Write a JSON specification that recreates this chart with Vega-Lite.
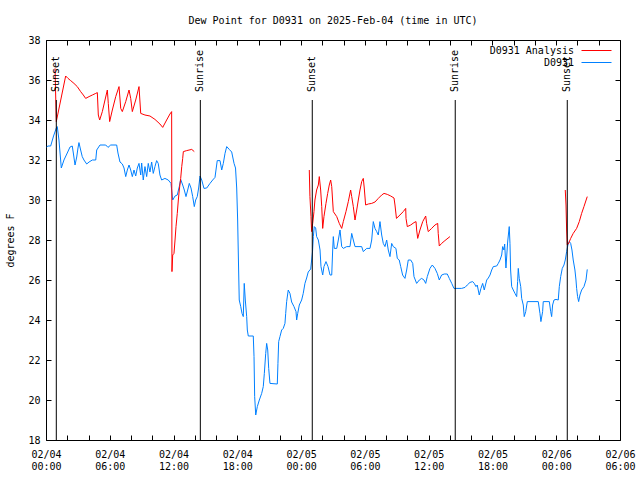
{
  "$schema": "https://vega.github.io/schema/vega-lite/v6.json",
  "width": 574,
  "height": 400,
  "autosize": {"type": "none"},
  "padding": {"left": 46, "top": 40, "right": 20, "bottom": 40},
  "background": "white",
  "config": {
    "font": "DejaVu Sans Mono",
    "view": {"stroke": null},
    "axis": {
      "domainColor": "black", "domainWidth": 1, "tickColor": "black", "tickWidth": 1,
      "labelFont": "DejaVu Sans Mono", "labelFontSize": 10, "labelColor": "black",
      "titleFont": "DejaVu Sans Mono", "titleFontSize": 10, "titleFontWeight": "normal", "titleColor": "black",
      "grid": false
    }
  },
  "title": {"text": "Dew Point for D0931 on 2025-Feb-04 (time in UTC)", "font": "DejaVu Sans Mono", "fontSize": 10, "fontWeight": "normal", "color": "black", "anchor": "middle", "offset": 9},
  "datasets": {
    "events": [
      {"hour": 0.97, "event": "Sunset"},
      {"hour": 14.52, "event": "Sunrise"},
      {"hour": 25.05, "event": "Sunset"},
      {"hour": 38.50, "event": "Sunrise"},
      {"hour": 49.04, "event": "Sunset"}
    ],
    "obs": [
      {"series":"D0931","seg":"b","hour":0.05,"dewpoint":32.65},
      {"series":"D0931","seg":"b","hour":0.19,"dewpoint":32.7},
      {"series":"D0931","seg":"b","hour":0.44,"dewpoint":32.7},
      {"series":"D0931","seg":"b","hour":0.71,"dewpoint":33.2},
      {"series":"D0931","seg":"b","hour":0.97,"dewpoint":33.6},
      {"series":"D0931","seg":"b","hour":1.06,"dewpoint":33.67},
      {"series":"D0931","seg":"b","hour":1.22,"dewpoint":33.0},
      {"series":"D0931","seg":"b","hour":1.44,"dewpoint":31.6},
      {"series":"D0931","seg":"b","hour":1.69,"dewpoint":32.0},
      {"series":"D0931","seg":"b","hour":2.00,"dewpoint":32.35},
      {"series":"D0931","seg":"b","hour":2.26,"dewpoint":32.65},
      {"series":"D0931","seg":"b","hour":2.47,"dewpoint":32.7},
      {"series":"D0931","seg":"b","hour":2.57,"dewpoint":32.35},
      {"series":"D0931","seg":"b","hour":2.73,"dewpoint":31.75},
      {"series":"D0931","seg":"b","hour":2.89,"dewpoint":32.15},
      {"series":"D0931","seg":"b","hour":3.01,"dewpoint":32.6},
      {"series":"D0931","seg":"b","hour":3.10,"dewpoint":32.87},
      {"series":"D0931","seg":"b","hour":3.26,"dewpoint":32.5},
      {"series":"D0931","seg":"b","hour":3.41,"dewpoint":32.17},
      {"series":"D0931","seg":"b","hour":3.57,"dewpoint":32.0},
      {"series":"D0931","seg":"b","hour":3.83,"dewpoint":31.8},
      {"series":"D0931","seg":"b","hour":4.05,"dewpoint":31.9},
      {"series":"D0931","seg":"b","hour":4.36,"dewpoint":32.0},
      {"series":"D0931","seg":"b","hour":4.68,"dewpoint":32.0},
      {"series":"D0931","seg":"b","hour":4.77,"dewpoint":32.5},
      {"series":"D0931","seg":"b","hour":5.08,"dewpoint":32.75},
      {"series":"D0931","seg":"b","hour":5.62,"dewpoint":32.75},
      {"series":"D0931","seg":"b","hour":5.83,"dewpoint":32.63},
      {"series":"D0931","seg":"b","hour":6.09,"dewpoint":32.75},
      {"series":"D0931","seg":"b","hour":6.65,"dewpoint":32.75},
      {"series":"D0931","seg":"b","hour":6.77,"dewpoint":32.35},
      {"series":"D0931","seg":"b","hour":6.96,"dewpoint":31.9},
      {"series":"D0931","seg":"b","hour":7.18,"dewpoint":31.8},
      {"series":"D0931","seg":"b","hour":7.34,"dewpoint":31.6},
      {"series":"D0931","seg":"b","hour":7.50,"dewpoint":31.17},
      {"series":"D0931","seg":"b","hour":7.65,"dewpoint":31.5},
      {"series":"D0931","seg":"b","hour":7.81,"dewpoint":31.75},
      {"series":"D0931","seg":"b","hour":7.97,"dewpoint":31.5},
      {"series":"D0931","seg":"b","hour":8.12,"dewpoint":31.17},
      {"series":"D0931","seg":"b","hour":8.28,"dewpoint":31.5},
      {"series":"D0931","seg":"b","hour":8.44,"dewpoint":31.2},
      {"series":"D0931","seg":"b","hour":8.59,"dewpoint":31.6},
      {"series":"D0931","seg":"b","hour":8.75,"dewpoint":31.83},
      {"series":"D0931","seg":"b","hour":8.91,"dewpoint":31.25},
      {"series":"D0931","seg":"b","hour":9.00,"dewpoint":31.85},
      {"series":"D0931","seg":"b","hour":9.15,"dewpoint":31.0},
      {"series":"D0931","seg":"b","hour":9.31,"dewpoint":31.67},
      {"series":"D0931","seg":"b","hour":9.47,"dewpoint":31.17},
      {"series":"D0931","seg":"b","hour":9.62,"dewpoint":31.83},
      {"series":"D0931","seg":"b","hour":9.78,"dewpoint":31.4},
      {"series":"D0931","seg":"b","hour":9.94,"dewpoint":31.9},
      {"series":"D0931","seg":"b","hour":10.09,"dewpoint":31.33},
      {"series":"D0931","seg":"b","hour":10.25,"dewpoint":31.67},
      {"series":"D0931","seg":"b","hour":10.41,"dewpoint":31.97},
      {"series":"D0931","seg":"b","hour":10.56,"dewpoint":31.83},
      {"series":"D0931","seg":"b","hour":10.72,"dewpoint":31.25},
      {"series":"D0931","seg":"b","hour":10.88,"dewpoint":31.0},
      {"series":"D0931","seg":"b","hour":11.19,"dewpoint":31.08},
      {"series":"D0931","seg":"b","hour":11.50,"dewpoint":31.0},
      {"series":"D0931","seg":"b","hour":11.76,"dewpoint":30.83},
      {"series":"D0931","seg":"b","hour":11.82,"dewpoint":30.5},
      {"series":"D0931","seg":"b","hour":11.92,"dewpoint":30.0},
      {"series":"D0931","seg":"b","hour":12.14,"dewpoint":30.2},
      {"series":"D0931","seg":"b","hour":12.35,"dewpoint":30.25},
      {"series":"D0931","seg":"b","hour":12.54,"dewpoint":30.67},
      {"series":"D0931","seg":"b","hour":12.67,"dewpoint":31.03},
      {"series":"D0931","seg":"b","hour":12.86,"dewpoint":30.75},
      {"series":"D0931","seg":"b","hour":13.01,"dewpoint":30.5},
      {"series":"D0931","seg":"b","hour":13.17,"dewpoint":30.17},
      {"series":"D0931","seg":"b","hour":13.33,"dewpoint":30.5},
      {"series":"D0931","seg":"b","hour":13.48,"dewpoint":30.83},
      {"series":"D0931","seg":"b","hour":13.64,"dewpoint":30.6},
      {"series":"D0931","seg":"b","hour":13.80,"dewpoint":30.17},
      {"series":"D0931","seg":"b","hour":13.95,"dewpoint":29.67},
      {"series":"D0931","seg":"b","hour":14.08,"dewpoint":30.0},
      {"series":"D0931","seg":"b","hour":14.23,"dewpoint":30.17},
      {"series":"D0931","seg":"b","hour":14.36,"dewpoint":30.6},
      {"series":"D0931","seg":"b","hour":14.49,"dewpoint":31.2},
      {"series":"D0931","seg":"b","hour":14.65,"dewpoint":31.0},
      {"series":"D0931","seg":"b","hour":14.86,"dewpoint":30.58},
      {"series":"D0931","seg":"b","hour":15.12,"dewpoint":30.6},
      {"series":"D0931","seg":"b","hour":15.43,"dewpoint":30.83},
      {"series":"D0931","seg":"b","hour":15.68,"dewpoint":31.0},
      {"series":"D0931","seg":"b","hour":15.90,"dewpoint":31.13},
      {"series":"D0931","seg":"b","hour":16.11,"dewpoint":31.97},
      {"series":"D0931","seg":"b","hour":16.37,"dewpoint":31.97},
      {"series":"D0931","seg":"b","hour":16.53,"dewpoint":31.5},
      {"series":"D0931","seg":"b","hour":16.68,"dewpoint":31.83},
      {"series":"D0931","seg":"b","hour":16.84,"dewpoint":32.33},
      {"series":"D0931","seg":"b","hour":17.00,"dewpoint":32.67},
      {"series":"D0931","seg":"b","hour":17.24,"dewpoint":32.53},
      {"series":"D0931","seg":"b","hour":17.47,"dewpoint":32.4},
      {"series":"D0931","seg":"b","hour":17.69,"dewpoint":31.83},
      {"series":"D0931","seg":"b","hour":17.83,"dewpoint":31.6},
      {"series":"D0931","seg":"b","hour":17.94,"dewpoint":30.6},
      {"series":"D0931","seg":"b","hour":18.03,"dewpoint":29.0},
      {"series":"D0931","seg":"b","hour":18.11,"dewpoint":26.8},
      {"series":"D0931","seg":"b","hour":18.18,"dewpoint":25.0},
      {"series":"D0931","seg":"b","hour":18.32,"dewpoint":24.67},
      {"series":"D0931","seg":"b","hour":18.44,"dewpoint":24.33},
      {"series":"D0931","seg":"b","hour":18.56,"dewpoint":24.17},
      {"series":"D0931","seg":"b","hour":18.65,"dewpoint":25.83},
      {"series":"D0931","seg":"b","hour":18.75,"dewpoint":25.0},
      {"series":"D0931","seg":"b","hour":18.88,"dewpoint":24.17},
      {"series":"D0931","seg":"b","hour":18.94,"dewpoint":23.5},
      {"series":"D0931","seg":"b","hour":19.03,"dewpoint":23.2},
      {"series":"D0931","seg":"b","hour":19.50,"dewpoint":23.2},
      {"series":"D0931","seg":"b","hour":19.57,"dewpoint":22.17},
      {"series":"D0931","seg":"b","hour":19.63,"dewpoint":20.17},
      {"series":"D0931","seg":"b","hour":19.73,"dewpoint":19.25},
      {"series":"D0931","seg":"b","hour":19.88,"dewpoint":19.67},
      {"series":"D0931","seg":"b","hour":20.07,"dewpoint":20.0},
      {"series":"D0931","seg":"b","hour":20.29,"dewpoint":20.33},
      {"series":"D0931","seg":"b","hour":20.44,"dewpoint":20.67},
      {"series":"D0931","seg":"b","hour":20.54,"dewpoint":21.33},
      {"series":"D0931","seg":"b","hour":20.67,"dewpoint":22.33},
      {"series":"D0931","seg":"b","hour":20.76,"dewpoint":22.83},
      {"series":"D0931","seg":"b","hour":20.86,"dewpoint":22.5},
      {"series":"D0931","seg":"b","hour":20.95,"dewpoint":21.58},
      {"series":"D0931","seg":"b","hour":21.07,"dewpoint":20.83},
      {"series":"D0931","seg":"b","hour":21.76,"dewpoint":20.8},
      {"series":"D0931","seg":"b","hour":21.82,"dewpoint":21.83},
      {"series":"D0931","seg":"b","hour":21.89,"dewpoint":22.92},
      {"series":"D0931","seg":"b","hour":22.01,"dewpoint":23.17},
      {"series":"D0931","seg":"b","hour":22.17,"dewpoint":23.5},
      {"series":"D0931","seg":"b","hour":22.32,"dewpoint":23.58},
      {"series":"D0931","seg":"b","hour":22.48,"dewpoint":23.83},
      {"series":"D0931","seg":"b","hour":22.55,"dewpoint":24.33},
      {"series":"D0931","seg":"b","hour":22.64,"dewpoint":24.92},
      {"series":"D0931","seg":"b","hour":22.79,"dewpoint":25.5},
      {"series":"D0931","seg":"b","hour":22.95,"dewpoint":25.33},
      {"series":"D0931","seg":"b","hour":23.11,"dewpoint":24.9},
      {"series":"D0931","seg":"b","hour":23.33,"dewpoint":24.67},
      {"series":"D0931","seg":"b","hour":23.52,"dewpoint":24.42},
      {"series":"D0931","seg":"b","hour":23.58,"dewpoint":24.0},
      {"series":"D0931","seg":"b","hour":23.68,"dewpoint":24.33},
      {"series":"D0931","seg":"b","hour":23.83,"dewpoint":24.75},
      {"series":"D0931","seg":"b","hour":24.05,"dewpoint":25.0},
      {"series":"D0931","seg":"b","hour":24.20,"dewpoint":25.33},
      {"series":"D0931","seg":"b","hour":24.36,"dewpoint":25.83},
      {"series":"D0931","seg":"b","hour":24.52,"dewpoint":26.1},
      {"series":"D0931","seg":"b","hour":24.67,"dewpoint":26.4},
      {"series":"D0931","seg":"b","hour":24.90,"dewpoint":26.55},
      {"series":"D0931","seg":"b","hour":25.07,"dewpoint":27.4},
      {"series":"D0931","seg":"b","hour":25.15,"dewpoint":28.17},
      {"series":"D0931","seg":"b","hour":25.24,"dewpoint":28.67},
      {"series":"D0931","seg":"b","hour":25.37,"dewpoint":28.6},
      {"series":"D0931","seg":"b","hour":25.46,"dewpoint":28.17},
      {"series":"D0931","seg":"b","hour":25.62,"dewpoint":28.0},
      {"series":"D0931","seg":"b","hour":25.78,"dewpoint":27.5},
      {"series":"D0931","seg":"b","hour":25.87,"dewpoint":26.67},
      {"series":"D0931","seg":"b","hour":26.03,"dewpoint":26.25},
      {"series":"D0931","seg":"b","hour":26.15,"dewpoint":26.67},
      {"series":"D0931","seg":"b","hour":26.34,"dewpoint":26.92},
      {"series":"D0931","seg":"b","hour":26.53,"dewpoint":26.67},
      {"series":"D0931","seg":"b","hour":26.72,"dewpoint":26.25},
      {"series":"D0931","seg":"b","hour":26.88,"dewpoint":26.25},
      {"series":"D0931","seg":"b","hour":26.97,"dewpoint":27.5},
      {"series":"D0931","seg":"b","hour":27.03,"dewpoint":28.17},
      {"series":"D0931","seg":"b","hour":27.12,"dewpoint":27.58},
      {"series":"D0931","seg":"b","hour":27.35,"dewpoint":27.58},
      {"series":"D0931","seg":"b","hour":27.50,"dewpoint":28.0},
      {"series":"D0931","seg":"b","hour":27.66,"dewpoint":28.5},
      {"series":"D0931","seg":"b","hour":27.82,"dewpoint":27.67},
      {"series":"D0931","seg":"b","hour":27.97,"dewpoint":27.58},
      {"series":"D0931","seg":"b","hour":28.29,"dewpoint":27.67},
      {"series":"D0931","seg":"b","hour":28.60,"dewpoint":27.67},
      {"series":"D0931","seg":"b","hour":28.76,"dewpoint":28.33},
      {"series":"D0931","seg":"b","hour":28.91,"dewpoint":28.0},
      {"series":"D0931","seg":"b","hour":29.07,"dewpoint":27.67},
      {"series":"D0931","seg":"b","hour":29.70,"dewpoint":27.67},
      {"series":"D0931","seg":"b","hour":29.85,"dewpoint":27.42},
      {"series":"D0931","seg":"b","hour":30.17,"dewpoint":27.58},
      {"series":"D0931","seg":"b","hour":30.48,"dewpoint":27.58},
      {"series":"D0931","seg":"b","hour":30.64,"dewpoint":28.0},
      {"series":"D0931","seg":"b","hour":30.79,"dewpoint":28.92},
      {"series":"D0931","seg":"b","hour":30.95,"dewpoint":28.58},
      {"series":"D0931","seg":"b","hour":31.11,"dewpoint":28.42},
      {"series":"D0931","seg":"b","hour":31.26,"dewpoint":28.25},
      {"series":"D0931","seg":"b","hour":31.42,"dewpoint":28.92},
      {"series":"D0931","seg":"b","hour":31.58,"dewpoint":28.25},
      {"series":"D0931","seg":"b","hour":31.73,"dewpoint":27.83},
      {"series":"D0931","seg":"b","hour":31.89,"dewpoint":27.67},
      {"series":"D0931","seg":"b","hour":32.05,"dewpoint":28.0},
      {"series":"D0931","seg":"b","hour":32.20,"dewpoint":27.5},
      {"series":"D0931","seg":"b","hour":32.36,"dewpoint":27.17},
      {"series":"D0931","seg":"b","hour":32.52,"dewpoint":27.83},
      {"series":"D0931","seg":"b","hour":32.67,"dewpoint":27.67},
      {"series":"D0931","seg":"b","hour":32.92,"dewpoint":27.58},
      {"series":"D0931","seg":"b","hour":33.05,"dewpoint":27.08},
      {"series":"D0931","seg":"b","hour":33.23,"dewpoint":27.0},
      {"series":"D0931","seg":"b","hour":33.37,"dewpoint":26.67},
      {"series":"D0931","seg":"b","hour":33.55,"dewpoint":26.25},
      {"series":"D0931","seg":"b","hour":33.77,"dewpoint":26.08},
      {"series":"D0931","seg":"b","hour":33.93,"dewpoint":26.5},
      {"series":"D0931","seg":"b","hour":34.08,"dewpoint":27.0},
      {"series":"D0931","seg":"b","hour":34.31,"dewpoint":27.0},
      {"series":"D0931","seg":"b","hour":34.50,"dewpoint":26.83},
      {"series":"D0931","seg":"b","hour":34.62,"dewpoint":26.17},
      {"series":"D0931","seg":"b","hour":34.87,"dewpoint":25.83},
      {"series":"D0931","seg":"b","hour":35.12,"dewpoint":26.0},
      {"series":"D0931","seg":"b","hour":35.34,"dewpoint":26.08},
      {"series":"D0931","seg":"b","hour":35.56,"dewpoint":26.0},
      {"series":"D0931","seg":"b","hour":35.72,"dewpoint":25.83},
      {"series":"D0931","seg":"b","hour":35.87,"dewpoint":26.17},
      {"series":"D0931","seg":"b","hour":36.12,"dewpoint":26.58},
      {"series":"D0931","seg":"b","hour":36.34,"dewpoint":26.75},
      {"series":"D0931","seg":"b","hour":36.59,"dewpoint":26.58},
      {"series":"D0931","seg":"b","hour":36.81,"dewpoint":26.33},
      {"series":"D0931","seg":"b","hour":37.00,"dewpoint":26.0},
      {"series":"D0931","seg":"b","hour":37.22,"dewpoint":26.25},
      {"series":"D0931","seg":"b","hour":37.47,"dewpoint":26.3},
      {"series":"D0931","seg":"b","hour":37.75,"dewpoint":26.3},
      {"series":"D0931","seg":"b","hour":37.94,"dewpoint":26.08},
      {"series":"D0931","seg":"b","hour":38.17,"dewpoint":25.83},
      {"series":"D0931","seg":"b","hour":38.38,"dewpoint":25.58},
      {"series":"D0931","seg":"b","hour":39.10,"dewpoint":25.58},
      {"series":"D0931","seg":"b","hour":39.42,"dewpoint":25.63},
      {"series":"D0931","seg":"b","hour":39.63,"dewpoint":25.75},
      {"series":"D0931","seg":"b","hour":39.89,"dewpoint":25.88},
      {"series":"D0931","seg":"b","hour":40.14,"dewpoint":25.92},
      {"series":"D0931","seg":"b","hour":40.29,"dewpoint":25.83},
      {"series":"D0931","seg":"b","hour":40.45,"dewpoint":25.67},
      {"series":"D0931","seg":"b","hour":40.57,"dewpoint":25.75},
      {"series":"D0931","seg":"b","hour":40.76,"dewpoint":25.25},
      {"series":"D0931","seg":"b","hour":40.92,"dewpoint":25.58},
      {"series":"D0931","seg":"b","hour":41.08,"dewpoint":25.83},
      {"series":"D0931","seg":"b","hour":41.23,"dewpoint":25.5},
      {"series":"D0931","seg":"b","hour":41.46,"dewpoint":26.0},
      {"series":"D0931","seg":"b","hour":41.61,"dewpoint":26.1},
      {"series":"D0931","seg":"b","hour":41.77,"dewpoint":26.25},
      {"series":"D0931","seg":"b","hour":41.93,"dewpoint":26.5},
      {"series":"D0931","seg":"b","hour":42.08,"dewpoint":26.67},
      {"series":"D0931","seg":"b","hour":42.40,"dewpoint":26.7},
      {"series":"D0931","seg":"b","hour":42.55,"dewpoint":26.83},
      {"series":"D0931","seg":"b","hour":42.71,"dewpoint":27.0},
      {"series":"D0931","seg":"b","hour":42.87,"dewpoint":27.25},
      {"series":"D0931","seg":"b","hour":42.96,"dewpoint":27.67},
      {"series":"D0931","seg":"b","hour":43.08,"dewpoint":27.5},
      {"series":"D0931","seg":"b","hour":43.15,"dewpoint":27.8},
      {"series":"D0931","seg":"b","hour":43.27,"dewpoint":26.6},
      {"series":"D0931","seg":"b","hour":43.43,"dewpoint":27.9},
      {"series":"D0931","seg":"b","hour":43.58,"dewpoint":28.67},
      {"series":"D0931","seg":"b","hour":43.65,"dewpoint":27.83},
      {"series":"D0931","seg":"b","hour":43.71,"dewpoint":26.5},
      {"series":"D0931","seg":"b","hour":43.81,"dewpoint":25.67},
      {"series":"D0931","seg":"b","hour":43.96,"dewpoint":25.5},
      {"series":"D0931","seg":"b","hour":44.12,"dewpoint":25.33},
      {"series":"D0931","seg":"b","hour":44.28,"dewpoint":25.17},
      {"series":"D0931","seg":"b","hour":44.37,"dewpoint":25.92},
      {"series":"D0931","seg":"b","hour":44.43,"dewpoint":26.58},
      {"series":"D0931","seg":"b","hour":44.52,"dewpoint":26.08},
      {"series":"D0931","seg":"b","hour":44.66,"dewpoint":25.67},
      {"series":"D0931","seg":"b","hour":44.75,"dewpoint":25.08},
      {"series":"D0931","seg":"b","hour":44.90,"dewpoint":24.75},
      {"series":"D0931","seg":"b","hour":44.99,"dewpoint":24.17},
      {"series":"D0931","seg":"b","hour":45.13,"dewpoint":24.42},
      {"series":"D0931","seg":"b","hour":45.28,"dewpoint":24.92},
      {"series":"D0931","seg":"b","hour":46.31,"dewpoint":24.92},
      {"series":"D0931","seg":"b","hour":46.47,"dewpoint":24.33},
      {"series":"D0931","seg":"b","hour":46.56,"dewpoint":23.92},
      {"series":"D0931","seg":"b","hour":46.72,"dewpoint":24.42},
      {"series":"D0931","seg":"b","hour":46.78,"dewpoint":24.92},
      {"series":"D0931","seg":"b","hour":47.35,"dewpoint":24.92},
      {"series":"D0931","seg":"b","hour":47.48,"dewpoint":24.42},
      {"series":"D0931","seg":"b","hour":47.57,"dewpoint":24.17},
      {"series":"D0931","seg":"b","hour":47.66,"dewpoint":24.75},
      {"series":"D0931","seg":"b","hour":47.79,"dewpoint":25.0},
      {"series":"D0931","seg":"b","hour":47.98,"dewpoint":25.03},
      {"series":"D0931","seg":"b","hour":48.19,"dewpoint":25.0},
      {"series":"D0931","seg":"b","hour":48.29,"dewpoint":25.67},
      {"series":"D0931","seg":"b","hour":48.42,"dewpoint":26.17},
      {"series":"D0931","seg":"b","hour":48.57,"dewpoint":26.58},
      {"series":"D0931","seg":"b","hour":48.73,"dewpoint":26.75},
      {"series":"D0931","seg":"b","hour":48.85,"dewpoint":27.0},
      {"series":"D0931","seg":"b","hour":48.98,"dewpoint":27.42},
      {"series":"D0931","seg":"b","hour":49.10,"dewpoint":27.75},
      {"series":"D0931","seg":"b","hour":49.23,"dewpoint":27.92},
      {"series":"D0931","seg":"b","hour":49.36,"dewpoint":27.83},
      {"series":"D0931","seg":"b","hour":49.48,"dewpoint":27.5},
      {"series":"D0931","seg":"b","hour":49.60,"dewpoint":27.0},
      {"series":"D0931","seg":"b","hour":49.76,"dewpoint":26.5},
      {"series":"D0931","seg":"b","hour":49.86,"dewpoint":26.0},
      {"series":"D0931","seg":"b","hour":49.92,"dewpoint":25.58},
      {"series":"D0931","seg":"b","hour":50.01,"dewpoint":25.17},
      {"series":"D0931","seg":"b","hour":50.11,"dewpoint":24.92},
      {"series":"D0931","seg":"b","hour":50.23,"dewpoint":25.25},
      {"series":"D0931","seg":"b","hour":50.39,"dewpoint":25.5},
      {"series":"D0931","seg":"b","hour":50.61,"dewpoint":25.67},
      {"series":"D0931","seg":"b","hour":50.80,"dewpoint":26.0},
      {"series":"D0931","seg":"b","hour":50.92,"dewpoint":26.53},

      {"series":"D0931 Analysis","seg":"r1","hour":0.85,"dewpoint":36.58},
      {"series":"D0931 Analysis","seg":"r1","hour":0.91,"dewpoint":35.2},
      {"series":"D0931 Analysis","seg":"r1","hour":0.97,"dewpoint":33.92},
      {"series":"D0931 Analysis","seg":"r1","hour":1.85,"dewpoint":36.2},
      {"series":"D0931 Analysis","seg":"r1","hour":2.07,"dewpoint":36.08},
      {"series":"D0931 Analysis","seg":"r1","hour":2.32,"dewpoint":35.97},
      {"series":"D0931 Analysis","seg":"r1","hour":2.63,"dewpoint":35.83},
      {"series":"D0931 Analysis","seg":"r1","hour":2.94,"dewpoint":35.67},
      {"series":"D0931 Analysis","seg":"r1","hour":3.26,"dewpoint":35.42},
      {"series":"D0931 Analysis","seg":"r1","hour":3.51,"dewpoint":35.25},
      {"series":"D0931 Analysis","seg":"r1","hour":3.73,"dewpoint":35.08},
      {"series":"D0931 Analysis","seg":"r1","hour":4.05,"dewpoint":35.17},
      {"series":"D0931 Analysis","seg":"r1","hour":4.36,"dewpoint":35.25},
      {"series":"D0931 Analysis","seg":"r1","hour":4.68,"dewpoint":35.33},
      {"series":"D0931 Analysis","seg":"r1","hour":4.83,"dewpoint":35.37},
      {"series":"D0931 Analysis","seg":"r1","hour":4.92,"dewpoint":34.25},
      {"series":"D0931 Analysis","seg":"r1","hour":5.05,"dewpoint":34.0},
      {"series":"D0931 Analysis","seg":"r1","hour":5.30,"dewpoint":34.42},
      {"series":"D0931 Analysis","seg":"r1","hour":5.55,"dewpoint":35.0},
      {"series":"D0931 Analysis","seg":"r1","hour":5.77,"dewpoint":35.5},
      {"series":"D0931 Analysis","seg":"r1","hour":5.86,"dewpoint":34.83},
      {"series":"D0931 Analysis","seg":"r1","hour":5.99,"dewpoint":33.92},
      {"series":"D0931 Analysis","seg":"r1","hour":6.24,"dewpoint":34.5},
      {"series":"D0931 Analysis","seg":"r1","hour":6.56,"dewpoint":35.17},
      {"series":"D0931 Analysis","seg":"r1","hour":6.87,"dewpoint":35.67},
      {"series":"D0931 Analysis","seg":"r1","hour":7.03,"dewpoint":34.58},
      {"series":"D0931 Analysis","seg":"r1","hour":7.18,"dewpoint":34.42},
      {"series":"D0931 Analysis","seg":"r1","hour":7.50,"dewpoint":34.92},
      {"series":"D0931 Analysis","seg":"r1","hour":7.81,"dewpoint":35.5},
      {"series":"D0931 Analysis","seg":"r1","hour":7.97,"dewpoint":35.08},
      {"series":"D0931 Analysis","seg":"r1","hour":8.12,"dewpoint":34.42},
      {"series":"D0931 Analysis","seg":"r1","hour":8.44,"dewpoint":35.0},
      {"series":"D0931 Analysis","seg":"r1","hour":8.75,"dewpoint":35.67},
      {"series":"D0931 Analysis","seg":"r1","hour":8.91,"dewpoint":34.33},
      {"series":"D0931 Analysis","seg":"r1","hour":9.31,"dewpoint":34.25},
      {"series":"D0931 Analysis","seg":"r1","hour":9.78,"dewpoint":34.2},
      {"series":"D0931 Analysis","seg":"r1","hour":10.25,"dewpoint":34.03},
      {"series":"D0931 Analysis","seg":"r1","hour":10.72,"dewpoint":33.8},
      {"series":"D0931 Analysis","seg":"r1","hour":10.98,"dewpoint":33.63},
      {"series":"D0931 Analysis","seg":"r1","hour":11.35,"dewpoint":34.0},
      {"series":"D0931 Analysis","seg":"r1","hour":11.66,"dewpoint":34.3},
      {"series":"D0931 Analysis","seg":"r1","hour":11.82,"dewpoint":34.42},
      {"series":"D0931 Analysis","seg":"r1","hour":11.85,"dewpoint":26.42},
      {"series":"D0931 Analysis","seg":"r1","hour":11.92,"dewpoint":27.25},
      {"series":"D0931 Analysis","seg":"r1","hour":12.04,"dewpoint":27.33},
      {"series":"D0931 Analysis","seg":"r1","hour":12.14,"dewpoint":28.0},
      {"series":"D0931 Analysis","seg":"r1","hour":12.23,"dewpoint":28.67},
      {"series":"D0931 Analysis","seg":"r1","hour":12.35,"dewpoint":29.33},
      {"series":"D0931 Analysis","seg":"r1","hour":12.45,"dewpoint":30.0},
      {"series":"D0931 Analysis","seg":"r1","hour":12.54,"dewpoint":30.5},
      {"series":"D0931 Analysis","seg":"r1","hour":12.67,"dewpoint":31.08},
      {"series":"D0931 Analysis","seg":"r1","hour":12.77,"dewpoint":31.67},
      {"series":"D0931 Analysis","seg":"r1","hour":12.86,"dewpoint":32.08},
      {"series":"D0931 Analysis","seg":"r1","hour":12.92,"dewpoint":32.42},
      {"series":"D0931 Analysis","seg":"r1","hour":13.24,"dewpoint":32.47},
      {"series":"D0931 Analysis","seg":"r1","hour":13.71,"dewpoint":32.53},
      {"series":"D0931 Analysis","seg":"r1","hour":13.95,"dewpoint":32.42},

      {"series":"D0931 Analysis","seg":"r2","hour":24.77,"dewpoint":31.5},
      {"series":"D0931 Analysis","seg":"r2","hour":24.83,"dewpoint":30.17},
      {"series":"D0931 Analysis","seg":"r2","hour":24.93,"dewpoint":29.17},
      {"series":"D0931 Analysis","seg":"r2","hour":24.99,"dewpoint":28.42},
      {"series":"D0931 Analysis","seg":"r2","hour":25.09,"dewpoint":28.83},
      {"series":"D0931 Analysis","seg":"r2","hour":25.21,"dewpoint":29.42},
      {"series":"D0931 Analysis","seg":"r2","hour":25.30,"dewpoint":30.0},
      {"series":"D0931 Analysis","seg":"r2","hour":25.46,"dewpoint":30.5},
      {"series":"D0931 Analysis","seg":"r2","hour":25.62,"dewpoint":30.75},
      {"series":"D0931 Analysis","seg":"r2","hour":25.71,"dewpoint":31.17},
      {"series":"D0931 Analysis","seg":"r2","hour":25.84,"dewpoint":30.5},
      {"series":"D0931 Analysis","seg":"r2","hour":25.94,"dewpoint":29.67},
      {"series":"D0931 Analysis","seg":"r2","hour":26.03,"dewpoint":28.58},
      {"series":"D0931 Analysis","seg":"r2","hour":26.15,"dewpoint":29.17},
      {"series":"D0931 Analysis","seg":"r2","hour":26.34,"dewpoint":29.83},
      {"series":"D0931 Analysis","seg":"r2","hour":26.50,"dewpoint":30.33},
      {"series":"D0931 Analysis","seg":"r2","hour":26.65,"dewpoint":30.75},
      {"series":"D0931 Analysis","seg":"r2","hour":26.78,"dewpoint":31.0},
      {"series":"D0931 Analysis","seg":"r2","hour":26.88,"dewpoint":30.67},
      {"series":"D0931 Analysis","seg":"r2","hour":27.03,"dewpoint":29.42},
      {"series":"D0931 Analysis","seg":"r2","hour":27.35,"dewpoint":29.17},
      {"series":"D0931 Analysis","seg":"r2","hour":27.59,"dewpoint":28.83},
      {"series":"D0931 Analysis","seg":"r2","hour":27.82,"dewpoint":28.58},
      {"series":"D0931 Analysis","seg":"r2","hour":27.97,"dewpoint":28.92},
      {"series":"D0931 Analysis","seg":"r2","hour":28.22,"dewpoint":29.42},
      {"series":"D0931 Analysis","seg":"r2","hour":28.44,"dewpoint":29.92},
      {"series":"D0931 Analysis","seg":"r2","hour":28.66,"dewpoint":30.5},
      {"series":"D0931 Analysis","seg":"r2","hour":28.76,"dewpoint":30.17},
      {"series":"D0931 Analysis","seg":"r2","hour":28.91,"dewpoint":29.67},
      {"series":"D0931 Analysis","seg":"r2","hour":29.07,"dewpoint":29.0},
      {"series":"D0931 Analysis","seg":"r2","hour":29.23,"dewpoint":29.5},
      {"series":"D0931 Analysis","seg":"r2","hour":29.38,"dewpoint":30.0},
      {"series":"D0931 Analysis","seg":"r2","hour":29.54,"dewpoint":30.5},
      {"series":"D0931 Analysis","seg":"r2","hour":29.70,"dewpoint":30.92},
      {"series":"D0931 Analysis","seg":"r2","hour":29.85,"dewpoint":31.08},
      {"series":"D0931 Analysis","seg":"r2","hour":29.94,"dewpoint":30.6},
      {"series":"D0931 Analysis","seg":"r2","hour":30.07,"dewpoint":29.75},
      {"series":"D0931 Analysis","seg":"r2","hour":30.32,"dewpoint":29.8},
      {"series":"D0931 Analysis","seg":"r2","hour":30.64,"dewpoint":29.83},
      {"series":"D0931 Analysis","seg":"r2","hour":30.95,"dewpoint":29.9},
      {"series":"D0931 Analysis","seg":"r2","hour":31.26,"dewpoint":30.08},
      {"series":"D0931 Analysis","seg":"r2","hour":31.58,"dewpoint":30.25},
      {"series":"D0931 Analysis","seg":"r2","hour":31.80,"dewpoint":30.33},
      {"series":"D0931 Analysis","seg":"r2","hour":32.11,"dewpoint":30.28},
      {"series":"D0931 Analysis","seg":"r2","hour":32.43,"dewpoint":30.2},
      {"series":"D0931 Analysis","seg":"r2","hour":32.74,"dewpoint":30.1},
      {"series":"D0931 Analysis","seg":"r2","hour":32.83,"dewpoint":29.75},
      {"series":"D0931 Analysis","seg":"r2","hour":32.97,"dewpoint":29.08},
      {"series":"D0931 Analysis","seg":"r2","hour":33.30,"dewpoint":29.25},
      {"series":"D0931 Analysis","seg":"r2","hour":33.61,"dewpoint":29.42},
      {"series":"D0931 Analysis","seg":"r2","hour":33.84,"dewpoint":29.58},
      {"series":"D0931 Analysis","seg":"r2","hour":33.87,"dewpoint":29.08},
      {"series":"D0931 Analysis","seg":"r2","hour":33.99,"dewpoint":28.67},
      {"series":"D0931 Analysis","seg":"r2","hour":34.31,"dewpoint":28.75},
      {"series":"D0931 Analysis","seg":"r2","hour":34.62,"dewpoint":28.87},
      {"series":"D0931 Analysis","seg":"r2","hour":34.81,"dewpoint":28.92},
      {"series":"D0931 Analysis","seg":"r2","hour":34.87,"dewpoint":28.5},
      {"series":"D0931 Analysis","seg":"r2","hour":34.97,"dewpoint":28.08},
      {"series":"D0931 Analysis","seg":"r2","hour":35.18,"dewpoint":28.5},
      {"series":"D0931 Analysis","seg":"r2","hour":35.44,"dewpoint":28.92},
      {"series":"D0931 Analysis","seg":"r2","hour":35.72,"dewpoint":29.2},
      {"series":"D0931 Analysis","seg":"r2","hour":35.81,"dewpoint":28.83},
      {"series":"D0931 Analysis","seg":"r2","hour":35.96,"dewpoint":28.42},
      {"series":"D0931 Analysis","seg":"r2","hour":36.28,"dewpoint":28.58},
      {"series":"D0931 Analysis","seg":"r2","hour":36.59,"dewpoint":28.75},
      {"series":"D0931 Analysis","seg":"r2","hour":36.85,"dewpoint":28.83},
      {"series":"D0931 Analysis","seg":"r2","hour":36.90,"dewpoint":28.33},
      {"series":"D0931 Analysis","seg":"r2","hour":37.00,"dewpoint":27.7},
      {"series":"D0931 Analysis","seg":"r2","hour":37.22,"dewpoint":27.83},
      {"series":"D0931 Analysis","seg":"r2","hour":37.53,"dewpoint":27.97},
      {"series":"D0931 Analysis","seg":"r2","hour":38.00,"dewpoint":28.17},

      {"series":"D0931 Analysis","seg":"r3","hour":48.85,"dewpoint":30.5},
      {"series":"D0931 Analysis","seg":"r3","hour":48.92,"dewpoint":29.75},
      {"series":"D0931 Analysis","seg":"r3","hour":48.98,"dewpoint":28.5},
      {"series":"D0931 Analysis","seg":"r3","hour":49.04,"dewpoint":27.75},
      {"series":"D0931 Analysis","seg":"r3","hour":49.14,"dewpoint":27.8},
      {"series":"D0931 Analysis","seg":"r3","hour":49.36,"dewpoint":28.08},
      {"series":"D0931 Analysis","seg":"r3","hour":49.60,"dewpoint":28.33},
      {"series":"D0931 Analysis","seg":"r3","hour":49.92,"dewpoint":28.58},
      {"series":"D0931 Analysis","seg":"r3","hour":50.17,"dewpoint":28.92},
      {"series":"D0931 Analysis","seg":"r3","hour":50.39,"dewpoint":29.33},
      {"series":"D0931 Analysis","seg":"r3","hour":50.61,"dewpoint":29.67},
      {"series":"D0931 Analysis","seg":"r3","hour":50.92,"dewpoint":30.17}
    ]
  },
  "layer": [
    {
      "data": {"name": "obs"},
      "mark": {"type": "line", "strokeWidth": 1, "interpolate": "linear"},
      "encoding": {
        "x": {
          "field": "hour", "type": "quantitative",
          "scale": {"domain": [0, 54], "nice": false, "zero": false},
          "axis": {
            "orient": "bottom", "title": null,
            "values": [0,2,4,6,8,10,12,14,16,18,20,22,24,26,28,30,32,34,36,38,40,42,44,46,48,50,52,54],
            "tickSize": -5, "labelPadding": 14, "labelOverlap": false, "labelFlush": false,
            "labelLineHeight": 12,
            "labelExpr": "datum.value % 6 == 0 ? ['02/0' + (4 + floor(datum.value / 24)), (datum.value % 24 < 10 ? '0' : '') + (datum.value % 24) + ':00'] : ''"
          }
        },
        "y": {
          "field": "dewpoint", "type": "quantitative",
          "scale": {"domain": [18, 38], "nice": false, "zero": false},
          "axis": {
            "orient": "left", "title": "degrees F", "titlePadding": 12,
            "values": [18,20,22,24,26,28,30,32,34,36,38],
            "tickSize": -5, "labelPadding": 11, "labelFlush": false, "labelOverlap": false
          }
        },
        "color": {
          "field": "series", "type": "nominal",
          "scale": {"domain": ["D0931 Analysis", "D0931"], "range": ["#ff0000", "#0080ff"]},
          "legend": {
            "orient": "none", "legendX": 434, "legendY": 4, "title": null,
            "symbolType": "M-2.5,0H2.5", "symbolSize": 144, "symbolStrokeWidth": 1,
            "rowPadding": 0, "padding": 0, "symbolOffset": 110,
            "labelAlign": "right", "labelOffset": -29,
            "labelFont": "DejaVu Sans Mono", "labelFontSize": 10, "labelColor": "black"
          }
        },
        "detail": {"field": "seg"}
      }
    },
    {
      "data": {"name": "events"},
      "mark": {"type": "rule", "color": "black", "strokeWidth": 1},
      "encoding": {
        "x": {
          "field": "hour", "type": "quantitative",
          "axis": {
            "orient": "top", "title": null, "labels": false,
            "values": [0,2,4,6,8,10,12,14,16,18,20,22,24,26,28,30,32,34,36,38,40,42,44,46,48,50,52,54],
            "tickSize": -5
          }
        },
        "y": {
          "datum": 35, "type": "quantitative",
          "axis": {"orient": "right", "title": null, "labels": false, "values": [18,20,22,24,26,28,30,32,34,36,38], "tickSize": -5}
        },
        "y2": {"datum": 18}
      }
    },
    {
      "data": {"name": "events"},
      "mark": {"type": "text", "angle": 270, "align": "left", "baseline": "middle", "font": "DejaVu Sans Mono", "fontSize": 10, "color": "black"},
      "encoding": {
        "x": {"field": "hour", "type": "quantitative", "axis": null},
        "y": {"datum": 35.4, "type": "quantitative", "axis": null},
        "text": {"field": "event"}
      }
    }
  ],
  "resolve": {"axis": {"x": "independent", "y": "independent"}}
}
